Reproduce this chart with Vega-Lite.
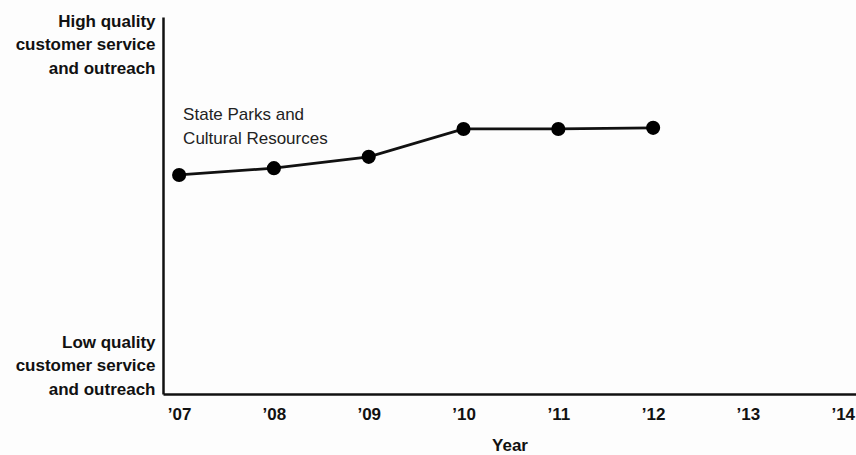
{
  "$schema": "https://vega.github.io/schema/vega-lite/v6.json",
  "width": 693,
  "height": 377,
  "autosize": {"type": "none"},
  "padding": {"left": 163, "top": 17, "right": 0, "bottom": 61},
  "background": "#fdfdfd",
  "config": {
    "view": {"stroke": null},
    "font": "Liberation Sans, Arial"
  },
  "data": {
    "values": [
      {"year": 2007, "score": 5.81, "series": "State Parks and Cultural Resources"},
      {"year": 2008, "score": 5.99, "series": "State Parks and Cultural Resources"},
      {"year": 2009, "score": 6.29, "series": "State Parks and Cultural Resources"},
      {"year": 2010, "score": 7.03, "series": "State Parks and Cultural Resources"},
      {"year": 2011, "score": 7.03, "series": "State Parks and Cultural Resources"},
      {"year": 2012, "score": 7.06, "series": "State Parks and Cultural Resources"}
    ]
  },
  "encoding": {
    "x": {
      "field": "year",
      "type": "quantitative",
      "scale": {"domain": [2006.83, 2014.14], "nice": false, "zero": false},
      "axis": {
        "title": "Year",
        "values": [2007, 2008, 2009, 2010, 2011, 2012, 2013, 2014],
        "labelExpr": "'\u2019' + substring(toString(datum.value), 2, 4)",
        "grid": false,
        "ticks": false,
        "tickSize": 0,
        "domainColor": "#111111",
        "domainWidth": 2.5,
        "labelFont": "Liberation Sans, Arial",
        "labelFontSize": 17,
        "labelFontWeight": "bold",
        "labelColor": "#111111",
        "labelPadding": 12,
        "labelFlush": false,
        "labelBound": false,
        "labelOverlap": false,
        "titleFont": "Liberation Sans, Arial",
        "titleFontSize": 17,
        "titleFontWeight": "bold",
        "titleColor": "#111111",
        "titlePadding": 15
      }
    },
    "y": {
      "field": "score",
      "type": "quantitative",
      "scale": {"domain": [0, 10], "nice": false},
      "axis": {
        "title": null,
        "values": [0, 10],
        "labelExpr": "datum.value == 10 ? ['High quality', 'customer service', 'and outreach'] : ['Low quality', 'customer service', 'and outreach']",
        "labelBaseline": "top",
        "labelOffset": {"condition": {"test": "datum.value == 10", "value": -4}, "value": -60},
        "labelLineHeight": 23.5,
        "grid": false,
        "ticks": false,
        "tickSize": 0,
        "domainColor": "#111111",
        "domainWidth": 2.5,
        "labelFont": "Liberation Sans, Arial",
        "labelFontSize": 17,
        "labelFontWeight": "bold",
        "labelColor": "#111111",
        "labelPadding": 8,
        "labelFlush": false,
        "labelBound": false,
        "labelOverlap": false
      }
    }
  },
  "layer": [
    {
      "mark": {"type": "line", "color": "#111111", "strokeWidth": 2.8}
    },
    {
      "mark": {"type": "point", "filled": true, "color": "#000000", "opacity": 1, "size": 200, "shape": "circle"}
    },
    {
      "transform": [{"filter": "datum.year == 2007"}],
      "mark": {
        "type": "text",
        "text": ["State Parks and", "Cultural Resources"],
        "align": "left",
        "baseline": "middle",
        "dx": 4,
        "dy": -60,
        "lineHeight": 24,
        "fontSize": 17,
        "font": "Liberation Sans, Arial",
        "color": "#222222"
      }
    }
  ]
}
